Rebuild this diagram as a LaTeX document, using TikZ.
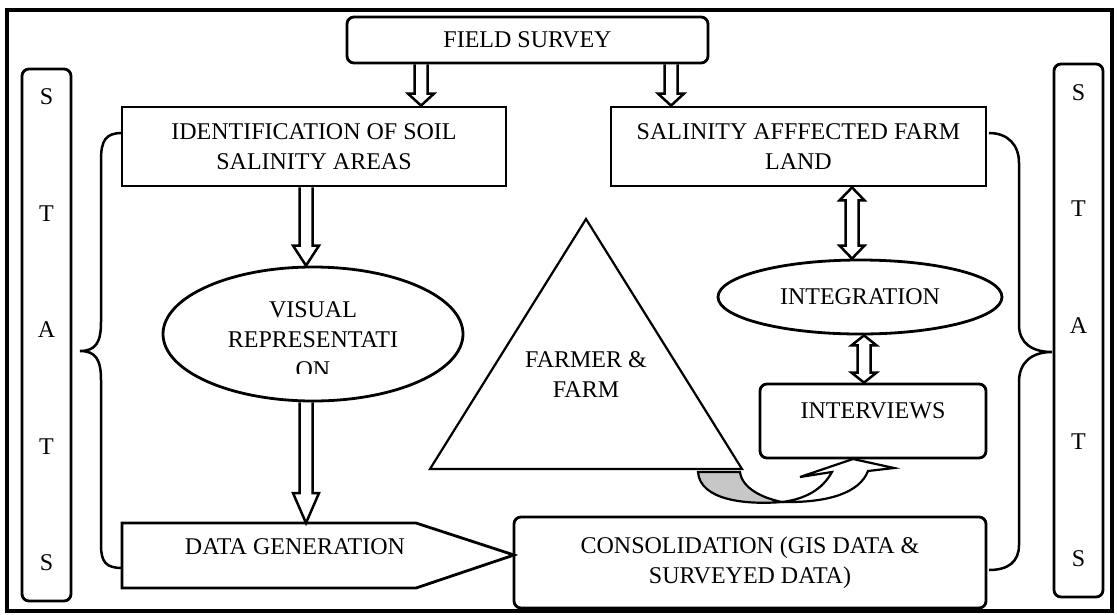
\documentclass[tikz,border=0pt]{standalone}
\usepackage{fontspec}
\setmainfont{Liberation Serif}
\usetikzlibrary{shapes.geometric,calc}

% hollow block arrows, x position given, ends taken from nodes
\newcommand{\blkdown}[4]{%
  \draw[blk] let \p0=(#1,0), \p1=(#2), \p2=(#3) in
    (\x0-6.5pt,\y1) -- (\x0-6.5pt,\y2+#4) -- (\x0-13pt,\y2+#4) -- (\x0,\y2)
    -- (\x0+13pt,\y2+#4) -- (\x0+6.5pt,\y2+#4) -- (\x0+6.5pt,\y1);}
\newcommand{\blkboth}[4]{%
  \draw[blk] let \p0=(#1,0), \p1=(#2), \p2=(#3) in
    (\x0,\y1) -- (\x0+12.5pt,\y1-#4) -- (\x0+6.5pt,\y1-#4) -- (\x0+6.5pt,\y2+#4)
    -- (\x0+12.5pt,\y2+#4) -- (\x0,\y2) -- (\x0-12.5pt,\y2+#4) -- (\x0-6.5pt,\y2+#4)
    -- (\x0-6.5pt,\y1-#4) -- (\x0-12.5pt,\y1-#4) -- cycle;}

\begin{document}
\begin{tikzpicture}[x=1pt,y=-1pt,line join=miter,
    every node/.style={font=\fontsize{24}{30}\selectfont}]
  \tikzstyle{box}=[draw,line width=2.8pt,inner sep=0pt,align=center];
  \tikzstyle{rbox}=[box,rounded corners=7pt];
  \tikzstyle{oval}=[box,ellipse];
  \tikzstyle{blk}=[line width=2.5pt];
  \tikzstyle{brace}=[line width=2.5pt];
  \tikzstyle{statbox}=[rbox,minimum width=49pt,text depth=10pt,font=\fontsize{24}{116.5}\selectfont];

  \useasboundingbox (0,0) rectangle (1117,614);
  \draw[line width=4pt] (7,10) rectangle (1112,611);

  % boxes
  \node[rbox,minimum width=361pt,minimum height=46pt] (fs) at (527.5,40) {FIELD SURVEY};
  \node[box,minimum width=384pt,minimum height=79pt] (idf) at (314,146.5) {IDENTIFICATION OF SOIL\\SALINITY AREAS};
  \node[box,minimum width=375pt,minimum height=79pt] (sal) at (798.5,146.5) {SALINITY AFFFECTED FARM\\LAND};
  \node[oval,minimum width=300pt,minimum height=134pt] (vis) at (313,334) {};
  \node[oval,minimum width=284pt,minimum height=74pt] (int) at (860,297) {INTEGRATION};
  \node[rbox,minimum width=226pt,minimum height=74pt,text height=16pt,text depth=22pt] (intv) at (873,421) {INTERVIEWS};
  \node[rbox,minimum width=472pt,minimum height=91pt] (cons) at (750,562.5) {CONSOLIDATION (GIS DATA \&\\SURVEYED DATA)};

  % stats columns
  \node[statbox,minimum height=532pt] (statl) at (46.5,335) {S\\T\\A\\T\\S};
  \node[statbox,minimum height=533pt] (statr) at (1078.5,330.5) {S\\T\\A\\T\\S};

  % text of the oval runs over its box
  \begin{scope}
    \clip (150,250) rectangle (480,373);
    \node[align=center] (vistext) at (313,340) {VISUAL\\REPRESENTATI\\ON};
  \end{scope}

  % farmer triangle
  \coordinate (apex) at (586,219);
  \coordinate (bl) at (430,469);
  \coordinate (br) at (742,469);
  \draw[line width=2.2pt] (apex) -- (br) -- (bl) -- cycle;
  \node[align=center] (farm) at (586,375) {FARMER \&\\FARM};

  % data generation pointer
  \coordinate (dgtop) at (306,523);
  \coordinate (dgtip) at (514,555);
  \draw[line width=2.8pt] (122,523) -- (416,523) -- (dgtip) -- (416,588) -- (122,588) -- cycle;
  \node (dg) at (295,547) {DATA GENERATION};

  % block arrows
  \blkdown{421}{fs.south}{idf.north}{12pt}
  \blkdown{671}{fs.south}{sal.north}{12pt}
  \blkdown{306}{idf.south}{vis.north}{20pt}
  \blkdown{306}{vis.south}{dgtop}{30pt}
  \blkboth{852}{sal.south}{int.north}{13pt}
  \blkboth{864}{int.south}{intv.north}{10pt}

  % braces
  \draw[brace] (122,133) .. controls (106,133) and (101,140) .. (101,160) -- (101,322)
    .. controls (101,342) and (96,351) .. (80,351) .. controls (96,351) and (101,360) .. (101,380)
    -- (101,545) .. controls (101,562) and (106,568) .. (122,568);
  \draw[brace] (989,133) .. controls (1008,133) and (1019,145) .. (1019,163) -- (1019,325)
    .. controls (1019,343) and (1032,352) .. (1052,352) .. controls (1032,352) and (1019,362) .. (1019,382)
    -- (1019,545) .. controls (1019,562) and (1008,570) .. (989,570);

  % curved arrow to interviews
  \draw[line width=2.2pt,fill=black!22] (698,472) .. controls (700,500) and (745,505) .. (782,502)
    .. controls (762,498) and (742,488) .. (740,472) -- cycle;
  \draw[line width=2.2pt,fill=white] (782,502) .. controls (830,503) and (860,492) .. (868,471)
    -- (894,468) -- (853,459) -- (800,477) -- (832,472) .. controls (822,490) and (805,499) .. (782,502) -- cycle;
\end{tikzpicture}
\end{document}
